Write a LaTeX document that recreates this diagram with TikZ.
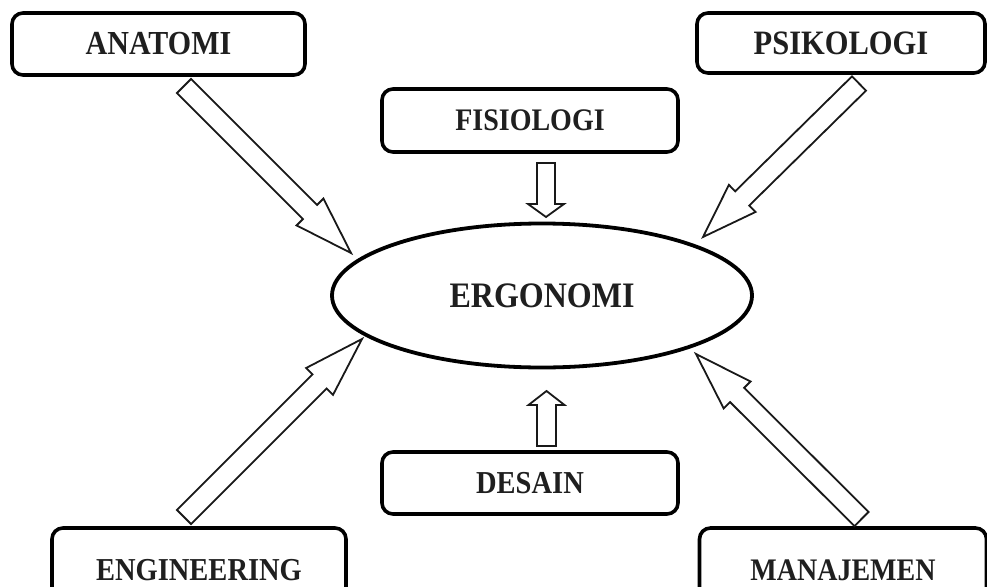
\documentclass[tikz,border=0pt]{standalone}
\usepackage{fontspec}
\setmainfont{Liberation Serif}
\usetikzlibrary{calc,shapes.geometric}

\tikzset{
  topic/.style={draw=black, line width=3.6pt, rounded corners=11pt, inner sep=0pt,
    text=black!88, font=\bfseries\fontsize{28.5}{30}\selectfont},
  core/.style={draw=black, line width=3.8pt, ellipse, inner sep=0pt,
    minimum width=420pt, minimum height=144pt,
    text=black!88, font=\bfseries\fontsize{32}{34}\selectfont},
  hollowarrow/.style={draw=black!90, line width=1.8pt, fill=white, line join=miter},
}

% slightly tall lettering
\newcommand\tallword[1]{\scalebox{1}[1.12]{#1}}

% hollow block arrow: tail, tip, half shaft width, half head width, head length
\newcommand\blockarrow[5]{%
  \coordinate (hb) at ($(#2)!#5!(#1)$);
  \draw[hollowarrow] ($(#1)!#3!90:(#2)$) -- ($(hb)!#3!90:(#2)$) -- ($(hb)!#4!90:(#2)$)
    -- (#2) -- ($(hb)!#4!-90:(#2)$) -- ($(hb)!#3!-90:(#2)$) -- ($(#1)!#3!-90:(#2)$) -- cycle;
}

\begin{document}
\begin{tikzpicture}[x=1pt, y=-1pt]
  \clip (0,0) rectangle (987,586);
  \fill[white] (0,0) rectangle (987,586);

  % discipline boxes
  \node[topic, minimum width=293pt, minimum height=62pt,
        font=\bfseries\fontsize{30}{32}\selectfont] (anat) at (158.5,44) {\tallword{ANATOMI}};
  \node[topic, minimum width=288pt, minimum height=60pt,
        font=\bfseries\fontsize{30.5}{32}\selectfont] (psik) at (841,43) {\tallword{PSIKOLOGI}};
  \node[topic, minimum width=296pt, minimum height=63pt,
        font=\bfseries\fontsize{28}{30}\selectfont] (fisi) at (530,120.5) {\tallword{FISIOLOGI}};
  \node[topic, minimum width=296pt, minimum height=62pt] (desa) at (530,483) {\tallword{DESAIN}};
  \node[topic, minimum width=294pt, minimum height=84pt] (engi) at (199,570) {\tallword{ENGINEERING}};
  \node[topic, minimum width=287pt, minimum height=84pt,
        font=\bfseries\fontsize{28}{30}\selectfont] (mana) at (843,570) {\tallword{MANAJEMEN}};

  % central topic
  \node[core] (ergo) at (542,295.5) {\tallword{ERGONOMI}};

  % arrow ends
  \coordinate (anatT) at (184,86);    \coordinate (anatH) at (351,253);
  \coordinate (psikT) at (859,83.5);  \coordinate (psikH) at (703,237);
  \coordinate (engiT) at (184,517);   \coordinate (engiH) at (362,339);
  \coordinate (manaT) at (861.5,519); \coordinate (manaH) at (696,354);
  \coordinate (fisiT) at (546,163);   \coordinate (fisiH) at (546,217);
  \coordinate (desaT) at (546.5,446); \coordinate (desaH) at (546.5,391);

  % arrows into the central topic
  \blockarrow{anatT}{anatH}{10pt}{19pt}{58pt}
  \blockarrow{psikT}{psikH}{10pt}{19pt}{55pt}
  \blockarrow{engiT}{engiH}{10pt}{19pt}{60pt}
  \blockarrow{manaT}{manaH}{10pt}{19pt}{58pt}
  \blockarrow{fisiT}{fisiH}{9pt}{18pt}{13pt}
  \blockarrow{desaT}{desaH}{9.5pt}{18pt}{14pt}
\end{tikzpicture}
\end{document}
